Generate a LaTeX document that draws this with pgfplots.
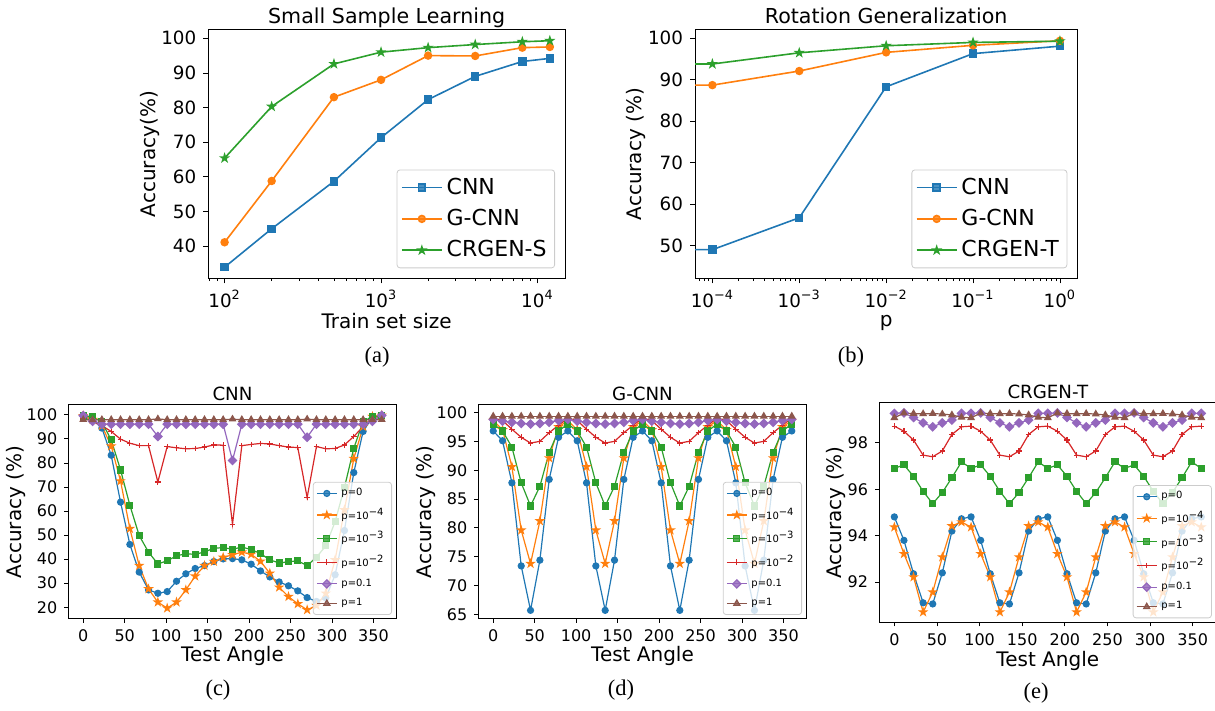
\documentclass[border=0pt]{standalone}
\usepackage{fontspec}
\setmainfont{DejaVu Sans}
\newfontfamily\capfont{Liberation Serif}
\usepackage{pgfplots}
\pgfplotsset{compat=1.18}
\usepackage{pgfplotstable}
\usetikzlibrary{plotmarks}

\definecolor{C0}{HTML}{1F77B4}
\definecolor{C1}{HTML}{FF7F0E}
\definecolor{C2}{HTML}{2CA02C}
\definecolor{C3}{HTML}{D62728}
\definecolor{C4}{HTML}{9467BD}
\definecolor{C5}{HTML}{8C564B}

\pgfdeclareplotmark{fstar}{%
  \pgfpathmoveto{\pgfpointpolar{90}{1.2\pgfplotmarksize}}%
  \pgfpathlineto{\pgfpointpolar{126}{0.46\pgfplotmarksize}}%
  \pgfpathlineto{\pgfpointpolar{162}{1.2\pgfplotmarksize}}%
  \pgfpathlineto{\pgfpointpolar{198}{0.46\pgfplotmarksize}}%
  \pgfpathlineto{\pgfpointpolar{234}{1.2\pgfplotmarksize}}%
  \pgfpathlineto{\pgfpointpolar{270}{0.46\pgfplotmarksize}}%
  \pgfpathlineto{\pgfpointpolar{306}{1.2\pgfplotmarksize}}%
  \pgfpathlineto{\pgfpointpolar{342}{0.46\pgfplotmarksize}}%
  \pgfpathlineto{\pgfpointpolar{18}{1.2\pgfplotmarksize}}%
  \pgfpathlineto{\pgfpointpolar{54}{0.46\pgfplotmarksize}}%
  \pgfpathclose\pgfusepathqfillstroke}

% Panel (a)
\pgfplotstableread{
n cnn gcnn crgen
100 33.9 41.1 65.4
200 45.0 58.8 80.3
500 58.7 83.0 92.6
1000 71.3 88.0 96.0
2000 82.3 95.0 97.3
4000 89.0 94.9 98.2
8000 93.3 97.3 99.0
12000 94.2 97.5 99.3
}\tabA

% Panel (b)
\pgfplotstableread{
p cnn gcnn crgen
1e-10 49.0 88.7 93.8
1e-4 49.0 88.7 93.8
1e-3 56.7 92.1 96.5
1e-2 88.3 96.6 98.2
1e-1 96.3 98.3 99.0
1 98.1 99.4 99.3
}\tabB

% Panel (c)
\pgfplotstableread{
a p0 p4 p3 p2 p1 pp
0 99.7 99.6 99.5 98.5 99.7 98.0
11.25 98.0 98.0 99.3 97.5 97.3 97.9
22.5 94.5 95.5 97.0 95.5 96.1 98.0
33.75 83.2 87.0 89.6 93.1 96.1 98.0
45 63.7 72.5 77.1 89.9 96.1 98.0
56.25 46.1 52.7 62.4 88.2 96.1 98.0
67.5 34.6 37.3 49.8 87.2 96.1 98.0
78.75 27.2 27.6 42.9 87.2 96.1 98.0
90 25.8 22.1 38.0 72.1 91.0 98.3
101.25 26.5 19.6 39.3 86.8 96.1 98.0
112.5 30.8 22.1 41.4 86.3 96.1 98.0
123.75 33.9 27.2 42.2 85.9 96.1 98.0
135 36.1 32.9 42.0 86.0 96.1 98.0
146.25 37.3 37.3 43.0 86.6 96.1 98.0
157.5 39.0 39.0 44.5 87.5 96.1 98.0
168.75 40.1 40.7 44.8 87.4 96.1 98.0
180 40.2 41.8 44.1 54.5 81.0 98.2
191.25 39.7 42.9 45.0 87.2 96.1 98.0
202.5 37.9 42.0 44.0 87.7 96.1 98.0
213.75 35.1 39.1 42.3 88.1 96.1 98.0
225 32.6 34.1 39.7 87.9 96.1 98.0
236.25 30.5 28.3 38.4 87.2 96.1 98.0
247.5 28.9 24.4 38.9 86.6 96.1 98.0
258.75 26.8 21.4 39.3 86.4 96.1 98.0
270 24.0 18.9 37.3 65.6 90.7 98.2
281.25 22.4 20.7 40.8 86.8 96.1 98.0
292.5 23.9 25.8 45.5 85.9 96.1 98.0
303.75 33.5 39.7 55.6 86.0 96.1 98.0
315 51.9 60.5 69.8 87.5 96.1 98.0
326.25 76.0 81.8 86.1 91.0 96.1 98.0
337.5 93.1 95.1 97.2 95.1 96.1 98.0
348.75 99.0 99.3 99.3 98.2 97.3 98.0
360 99.8 99.8 99.7 99.3 99.8 98.0
}\tabC

% Panel (d)
\pgfplotstableread{
a p0 p4 p3 p2 p1 pp
0 96.8 98.6 98.0 99.0 98.8 99.35
11.25 95.1 97.0 96.8 98.6 98.5 99.35
22.5 87.8 90.6 94.0 97.1 98.3 99.35
33.75 73.4 79.6 87.8 95.7 98.1 99.35
45 65.7 73.8 83.8 94.7 98.0 99.35
56.25 74.4 81.2 87.2 95.0 98.1 99.35
67.5 88.4 92.1 93.1 96.5 98.3 99.35
78.75 95.7 97.5 96.8 97.8 98.6 99.35
90 96.8 98.6 98.0 99.0 98.8 99.35
101.25 95.1 97.0 96.8 98.6 98.5 99.35
112.5 87.8 90.6 94.0 97.1 98.3 99.35
123.75 73.4 79.6 87.8 95.7 98.1 99.35
135 65.7 73.8 83.8 94.7 98.0 99.35
146.25 74.4 81.2 87.2 95.0 98.1 99.35
157.5 88.4 92.1 93.1 96.5 98.3 99.35
168.75 95.7 97.5 96.8 97.8 98.6 99.35
180 96.8 98.6 98.0 99.0 98.8 99.35
191.25 95.1 97.0 96.8 98.6 98.5 99.35
202.5 87.8 90.6 94.0 97.1 98.3 99.35
213.75 73.4 79.6 87.8 95.7 98.1 99.35
225 65.7 73.8 83.8 94.7 98.0 99.35
236.25 74.4 81.2 87.2 95.0 98.1 99.35
247.5 88.4 92.1 93.1 96.5 98.3 99.35
258.75 95.7 97.5 96.8 97.8 98.6 99.35
270 96.8 98.6 98.0 99.0 98.8 99.35
281.25 95.1 97.0 96.8 98.6 98.5 99.35
292.5 87.8 90.6 94.0 97.1 98.3 99.35
303.75 73.4 79.6 87.8 95.7 98.1 99.35
315 65.7 73.8 83.8 94.7 98.0 99.35
326.25 74.4 81.2 87.2 95.0 98.1 99.35
337.5 88.4 92.1 93.1 96.5 98.3 99.35
348.75 95.7 97.5 96.8 97.8 98.6 99.35
360 96.8 98.6 98.0 99.0 98.8 99.35
}\tabD

% Panel (e)
\pgfplotstableread{
a p0 p4 p3 p2 p1 pp
0 94.81 94.37 96.90 98.72 99.27 99.08
11.25 93.80 93.22 97.05 98.50 99.29 99.28
22.5 92.36 92.22 96.56 98.12 99.09 99.26
33.75 91.11 90.71 95.91 97.47 98.86 99.25
45 91.06 91.57 95.38 97.40 98.69 99.26
56.25 92.40 93.08 95.86 97.65 98.86 99.24
67.5 94.20 94.42 96.50 98.36 98.98 99.20
78.75 94.73 94.59 97.18 98.69 99.27 99.10
90 94.81 94.37 96.90 98.72 99.27 99.08
101.25 93.80 93.22 97.05 98.50 99.29 99.28
112.5 92.36 92.22 96.56 98.12 99.09 99.26
123.75 91.11 90.71 95.91 97.47 98.86 99.25
135 91.06 91.57 95.38 97.40 98.69 99.26
146.25 92.40 93.08 95.86 97.65 98.86 99.24
157.5 94.20 94.42 96.50 98.36 98.98 99.20
168.75 94.73 94.59 97.18 98.69 99.27 99.10
180 94.81 94.37 96.90 98.72 99.27 99.08
191.25 93.80 93.22 97.05 98.50 99.29 99.28
202.5 92.36 92.22 96.56 98.12 99.09 99.26
213.75 91.11 90.71 95.91 97.47 98.86 99.25
225 91.06 91.57 95.38 97.40 98.69 99.26
236.25 92.40 93.08 95.86 97.65 98.86 99.24
247.5 94.20 94.42 96.50 98.36 98.98 99.20
258.75 94.73 94.59 97.18 98.69 99.27 99.10
270 94.81 94.37 96.90 98.72 99.27 99.08
281.25 93.80 93.22 97.05 98.50 99.29 99.28
292.5 92.36 92.22 96.56 98.12 99.09 99.26
303.75 91.11 90.71 95.91 97.47 98.86 99.25
315 91.06 91.57 95.38 97.40 98.69 99.26
326.25 92.40 93.08 95.86 97.65 98.86 99.24
337.5 94.20 94.42 96.50 98.36 98.98 99.20
348.75 94.73 94.59 97.18 98.69 99.27 99.10
360 94.81 94.37 96.90 98.72 99.27 99.08
}\tabE

\pgfplotsset{
  base/.style={
    scale only axis, anchor=south west,
    axis line style={line width=0.5pt},
    tick align=outside, tick pos=left,
    every tick/.style={black, line width=0.4pt},
    /pgf/number format/assume math mode=true,
    legend cell align=left,
    legend style={draw=black!20, rounded corners=1.5pt, fill=white, fill opacity=0.8, text opacity=1,
      anchor=south east},
  },
  toppanel/.style={base,
    height=124.15pt,
    major tick length=2.5pt, minor tick length=1.4pt,
    tick label style={font=\fontsize{9.15}{10}\selectfont},
    label style={font=\fontsize{10.3}{12}\selectfont},
    every axis title/.style={font=\fontsize{10.3}{12}\selectfont, at={(axis description cs:0.5,1)}, anchor=base, yshift=3.4pt},
    legend style={font=\fontsize{11}{13}\selectfont, at={(rel axis cs:1,0)}, xshift=-5pt, yshift=5pt,
      inner xsep=2pt, inner ysep=2pt, row sep=2pt},
    legend image code/.code={\draw[mark repeat=2,mark phase=2,##1] plot coordinates {(0pt,0pt) (10pt,0pt) (20pt,0pt)};},
    every axis plot/.append style={line width=0.8pt},
  },
  botpanel/.style={base,
    major tick length=2pt,
    xmin=-18, xmax=378, xtick={0,50,...,350},
    tick label style={font=\fontsize{8}{9}\selectfont},
    label style={font=\fontsize{9.1}{10}\selectfont},
    every axis title/.style={font=\fontsize{9.1}{10}\selectfont, at={(axis description cs:0.5,1)}, anchor=base, yshift=2.3pt},
    xlabel={Test Angle}, ylabel={Accuracy (\%)},
    every axis x label/.style={at={(axis description cs:0.5,0)}, anchor=base, yshift=-21.3pt},
    legend style={font=\fontsize{5}{6}\selectfont, at={(rel axis cs:1,0)}, xshift=-2.35pt, yshift=2pt,
      inner xsep=1.5pt, inner ysep=1pt, row sep=0.6pt},
    legend image code/.code={\draw[mark repeat=2,mark phase=2,##1] plot coordinates {(0pt,0pt) (5pt,0pt) (10pt,0pt)};},
    every axis plot/.append style={line width=0.6pt},
  },
  ylab/.style={every axis y label/.style={at={(axis description cs:0,0.5)}, xshift=-#1, rotate=90, anchor=center}},
  s0/.style={C0, mark=*, mark size=1.5pt},
  s4/.style={C1, mark=fstar, mark size=1.5pt},
  s3/.style={C2, mark=square*, mark size=1.5pt},
  s2/.style={C3, mark=+, mark size=1.4pt},
  s1/.style={C4, mark=square*, mark size=1.45pt, mark options={rotate=45}},
  sp/.style={C5, mark=triangle*, mark size=1.7pt},
}

\begin{document}
\begin{tikzpicture}
\useasboundingbox (0,0) rectangle (607.5pt,355.5pt);

% (a)
\begin{axis}[toppanel, at={(104.15pt,216.35pt)}, width=178.35pt,
  xmode=log, xmin=78.7, xmax=15000, ymin=30.7, ymax=102.4,
  xtick={100,1000,10000}, xticklabels={10\textsuperscript{2},10\textsuperscript{3},10\textsuperscript{4}},
  minor xtick={80,90,200,300,400,500,600,700,800,900,2000,3000,4000,5000,6000,7000,8000,9000},
  ytick={40,50,...,100},
  ylab=29.15pt,
  every axis x label/.style={at={(axis description cs:0.5,0)}, anchor=base, yshift=-25pt},
  title={Small Sample Learning}, xlabel={Train set size}, ylabel={Accuracy(\%)}]
\addplot[C0, mark=square*, mark size=1.7pt] table[x=n,y=cnn] {\tabA};
\addlegendentry{CNN}
\addplot[C1, mark=*, mark size=1.7pt] table[x=n,y=gcnn] {\tabA};
\addlegendentry{G-CNN}
\addplot[C2, mark=fstar, mark size=1.4pt] table[x=n,y=crgen] {\tabA};
\addlegendentry{CRGEN-S}
\end{axis}

% (b)
\begin{axis}[toppanel, at={(347.5pt,216.35pt)}, width=191.15pt,
  xmode=log, xmin=6.31e-5, xmax=1.585, ymin=42.1, ymax=102,
  xtick={1e-4,1e-3,1e-2,1e-1,1},
  xticklabels={10\textsuperscript{−4},10\textsuperscript{−3},10\textsuperscript{−2},10\textsuperscript{−1},10\textsuperscript{0}},
  minor xtick={7e-5,8e-5,9e-5,2e-4,3e-4,4e-4,5e-4,6e-4,7e-4,8e-4,9e-4,2e-3,3e-3,4e-3,5e-3,6e-3,7e-3,8e-3,9e-3,2e-2,3e-2,4e-2,5e-2,6e-2,7e-2,8e-2,9e-2,0.2,0.3,0.4,0.5,0.6,0.7,0.8,0.9},
  ytick={50,60,...,100},
  ylab=29.5pt,
  every axis x label/.style={at={(axis description cs:0.5,0)}, anchor=base, yshift=-24pt},
  title={Rotation Generalization}, xlabel={p}, ylabel={Accuracy (\%)}]
\addplot[C0, mark=square*, mark size=1.7pt] table[x=p,y=cnn] {\tabB};
\addlegendentry{CNN}
\addplot[C1, mark=*, mark size=1.7pt] table[x=p,y=gcnn] {\tabB};
\addlegendentry{G-CNN}
\addplot[C2, mark=fstar, mark size=1.4pt] table[x=p,y=crgen] {\tabB};
\addlegendentry{CRGEN-T}
\end{axis}

% (c)
\begin{axis}[botpanel, at={(34.15pt,46pt)}, width=164.2pt, height=107pt,
  ymin=15.1, ymax=104.1, ytick={20,30,...,100}, title={CNN}, ylab=26.25pt]
\addplot[s0] table[x=a,y=p0] {\tabC}; \addlegendentry{p=0}
\addplot[s4] table[x=a,y=p4] {\tabC}; \addlegendentry{p=10\textsuperscript{−4}}
\addplot[s3] table[x=a,y=p3] {\tabC}; \addlegendentry{p=10\textsuperscript{−3}}
\addplot[s2] table[x=a,y=p2] {\tabC}; \addlegendentry{p=10\textsuperscript{−2}}
\addplot[s1] table[x=a,y=p1] {\tabC}; \addlegendentry{p=0.1}
\addplot[sp] table[x=a,y=pp] {\tabC}; \addlegendentry{p=1}
\end{axis}

% (d)
\begin{axis}[botpanel, at={(239.15pt,46pt)}, width=164.2pt, height=107pt,
  ymin=64.2, ymax=101.3, ytick={65,70,...,100}, title={G-CNN}, ylab=26.25pt]
\addplot[s0] table[x=a,y=p0] {\tabD}; \addlegendentry{p=0}
\addplot[s4] table[x=a,y=p4] {\tabD}; \addlegendentry{p=10\textsuperscript{−4}}
\addplot[s3] table[x=a,y=p3] {\tabD}; \addlegendentry{p=10\textsuperscript{−3}}
\addplot[s2] table[x=a,y=p2] {\tabD}; \addlegendentry{p=10\textsuperscript{−2}}
\addplot[s1] table[x=a,y=p1] {\tabD}; \addlegendentry{p=0.1}
\addplot[sp] table[x=a,y=pp] {\tabD}; \addlegendentry{p=1}
\end{axis}

% (e)
\begin{axis}[botpanel, at={(439.5pt,44.35pt)}, width=168.8pt, height=109.8pt,
  ymin=90.27, ymax=99.73, ytick={92,94,96,98}, title={CRGEN-T}, ylab=21.6pt,
  every axis x label/.style={at={(axis description cs:0.5,0)}, anchor=base, yshift=-22pt}]
\addplot[s0] table[x=a,y=p0] {\tabE}; \addlegendentry{p=0}
\addplot[s4] table[x=a,y=p4] {\tabE}; \addlegendentry{p=10\textsuperscript{−4}}
\addplot[s3] table[x=a,y=p3] {\tabE}; \addlegendentry{p=10\textsuperscript{−3}}
\addplot[s2] table[x=a,y=p2] {\tabE}; \addlegendentry{p=10\textsuperscript{−2}}
\addplot[s1] table[x=a,y=p1] {\tabE}; \addlegendentry{p=0.1}
\addplot[sp] table[x=a,y=pp] {\tabE}; \addlegendentry{p=1}
\end{axis}

% captions
\begin{scope}[every node/.style={font=\capfont\fontsize{11.25}{13}\selectfont, inner sep=0pt}]
\node at (188.5pt,177pt) {(a)};
\node at (425.5pt,177pt) {(b)};
\node at (109pt,10.5pt) {(c)};
\node at (310.5pt,10.5pt) {(d)};
\node at (518pt,9pt) {(e)};
\end{scope}
\end{tikzpicture}
\end{document}
